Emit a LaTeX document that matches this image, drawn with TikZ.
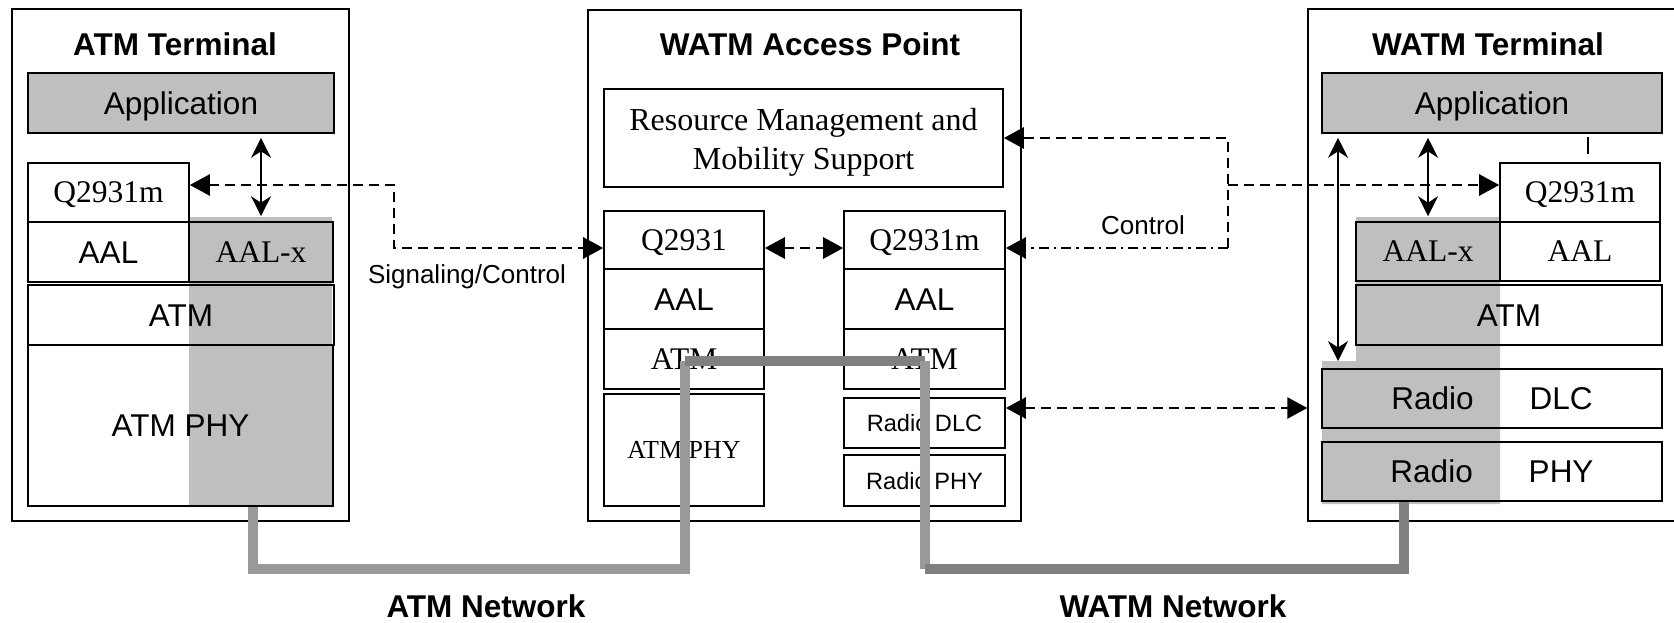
\documentclass[tikz,border=0pt]{standalone}
\usepackage{fontspec}
\setmainfont{Liberation Serif}
\setsansfont{Liberation Sans}
\usetikzlibrary{arrows.meta}
\definecolor{stackgray}{gray}{0.75}
\definecolor{netlight}{gray}{0.6}
\definecolor{netdark}{gray}{0.5}
\tikzset{
  frame/.style = {draw, line width=0.7pt, inner sep=0pt},
  box/.style = {draw, line width=0.8pt, inner sep=0pt},
  sans/.style = {font=\sffamily\fontsize{15.75}{19}\selectfont, text height=11.3pt, text depth=0pt},
  serif/.style = {font=\rmfamily\fontsize{15.75}{19}\selectfont, text height=10.4pt, text depth=0pt},
  small/.style = {font=\sffamily\fontsize{11.8}{14}\selectfont, text height=8.5pt, text depth=0pt},
  smallserif/.style = {font=\rmfamily\fontsize{13}{15}\selectfont, text height=8.6pt, text depth=0pt},
  title/.style = {font=\sffamily\bfseries\fontsize{15.75}{19}\selectfont},
  note/.style = {font=\sffamily\fontsize{13}{15}\selectfont},
  sig/.style = {line width=1.3pt, dash pattern=on 5pt off 3pt},
  sigdot/.style = {line width=1.3pt, dash pattern=on 5pt off 2.5pt on 1.2pt off 2.5pt},
  link/.style = {line width=0.7pt},
  dbl/.style = {link, {Stealth[length=10pt,width=10pt]}-{Stealth[length=10pt,width=10pt]}},
  net/.style = {line width=5.3pt}
}
\tikzset{>={Triangle[length=10pt,width=10.5pt]}}

\begin{document}
\begin{tikzpicture}[x=0.5pt,y=-0.5pt]
  \useasboundingbox (0,0) rectangle (1674,622);
  % shaded columns
  \fill[stackgray] (189,217) rectangle (332,505);
  \fill[stackgray] (1356,217) -- (1500,217) -- (1500,504) -- (1322,504) -- (1322,361) -- (1356,361) -- cycle;
  % ATM terminal
  \node[frame, minimum width=168.5pt, minimum height=256pt] (lt) at (180.5,265) {};
  \node[title] (ltt) at (175,44) {ATM Terminal};
  \node[box, sans, fill=stackgray, minimum width=153pt, minimum height=30pt] (lapp) at (181,103) {Application};
  \node[box, serif, minimum width=80.5pt, minimum height=29.5pt] (lq) at (108.5,192.5) {Q2931m};
  \node[box, sans, minimum width=80.5pt, minimum height=30pt] (laal) at (108.5,252) {AAL};
  \node[box, serif, minimum width=72pt, minimum height=30pt] (laalx) at (261,252) {AAL-x};
  \node[box, sans, minimum width=153pt, minimum height=30pt] (latm) at (181,315) {ATM};
  \node[box, sans, minimum width=152.5pt, minimum height=80.5pt] (lphy) at (180.5,425.5) {ATM PHY};
  % access point
  \node[frame, minimum width=216.5pt, minimum height=255.5pt] (ap) at (804.5,265.5) {};
  \node[title] (apt) at (810,44) {WATM Access Point};
  \node[box, font=\rmfamily\fontsize{16}{19.3}\selectfont, align=center, text height=31.3pt, text depth=0pt, minimum width=199.5pt, minimum height=49pt] (rmm) at (803.5,138) {Resource Management and\\Mobility Support};
  \node[box, serif, minimum width=80pt, minimum height=29pt] (aq) at (684,240) {Q2931};
  \node[box, sans, minimum width=80pt, minimum height=30pt] (aaal) at (684,299) {AAL};
  \node[box, serif, minimum width=80pt, minimum height=30pt] (aatm) at (684,359) {ATM};
  \node[box, smallserif, minimum width=80pt, minimum height=56pt] (aphy) at (684,450) {ATM PHY};
  \node[box, serif, minimum width=80.5pt, minimum height=29pt] (bq) at (924.5,240) {Q2931m};
  \node[box, sans, minimum width=80.5pt, minimum height=30pt] (baal) at (924.5,299) {AAL};
  \node[box, serif, minimum width=80.5pt, minimum height=30pt] (batm) at (924.5,359) {ATM};
  \node[box, small, minimum width=80.5pt, minimum height=25pt] (bdlc) at (924.5,423) {Radio DLC};
  \node[box, small, minimum width=80.5pt, minimum height=25.5pt] (bphy) at (924.5,480.5) {Radio PHY};
  % WATM terminal
  \node[frame, minimum width=196pt, minimum height=256pt] (wt) at (1504,265) {};
  \node[title] (wtt) at (1488,44) {WATM Terminal};
  \node[box, sans, fill=stackgray, minimum width=170pt, minimum height=30pt] (wapp) at (1492,103) {Application};
  \node[box, serif, minimum width=80pt, minimum height=29.5pt] (wq) at (1580,192.5) {Q2931m};
  \node[box, serif, minimum width=72pt, minimum height=29.5pt] (waalx) at (1428,251.5) {AAL-x};
  \node[box, serif, minimum width=80pt, minimum height=29.5pt] (waal) at (1580,251.5) {AAL};
  \node[box, sans, minimum width=153pt, minimum height=30pt] (watm) at (1509,315) {ATM};
  \node[box, sans, minimum width=170pt, minimum height=29.5pt] (wdlc) at (1492,398.5) {Radio\hspace{28pt}DLC};
  \node[box, sans, minimum width=170pt, minimum height=29.5pt] (wphy) at (1492,471.5) {Radio\hspace{28pt}PHY};
  % stack arrows
  \draw[dbl, shorten <=2pt, shorten >=2.5pt] (laalx.north |- lapp.south) -- (laalx.north);
  \draw[dbl, shorten <=2pt, shorten >=2.5pt] (waalx.north |- wapp.south) -- (waalx.north);
  \coordinate (wn) at (1338,361);
  \draw[dbl, shorten <=2pt] (wn |- wapp.south) -- (wn);
  \draw[link] (1588,137) -- (1588,154);
  % signaling
  \coordinate (sb) at (394,248);
  \draw[sig,<->] ([yshift=3.75pt]lq.east) -| (sb) -- (sb -| aq.west);
  \node[note] (sl) at (467,277) {Signaling/Control};
  \draw[sig,<->] (aq.east |- sb) -- (bq.west |- sb);
  % control
  \coordinate (cb) at (1228,248);
  \coordinate (cm) at (1228,185);
  \draw[sig,->] (cb) |- (rmm.east);
  \draw[sigdot,->] (cb) -- (cb -| bq.east);
  \draw[sig,->] (cm) -- (cm -| wq.west);
  \node[note] (cl) at (1143,225) {Control};
  % radio link
  \coordinate (rl) at ([yshift=7.5pt]bdlc.east);
  \draw[sig,<->] (rl) -- (rl -| wt.west);
  % networks
  \coordinate (na) at (253,569);
  \coordinate (nb) at (685,361);
  \coordinate (nc) at (925,569);
  \coordinate (nd) at (1404,569);
  \draw[net, netlight] (lphy.south -| na) -- (na) -- (na -| nb) -- (nb);
  \draw[net, netdark] (nb) -- (nb -| nc);
  \draw[net, netlight] (nb -| nc) -- (nc);
  \draw[net, netdark] (nc) -- (nd) -- (wphy.south -| nd);
  \node[title] (atmnet) at (486,606) {ATM Network};
  \node[title] (watmnet) at (1173,606) {WATM Network};
\end{tikzpicture}
\end{document}
